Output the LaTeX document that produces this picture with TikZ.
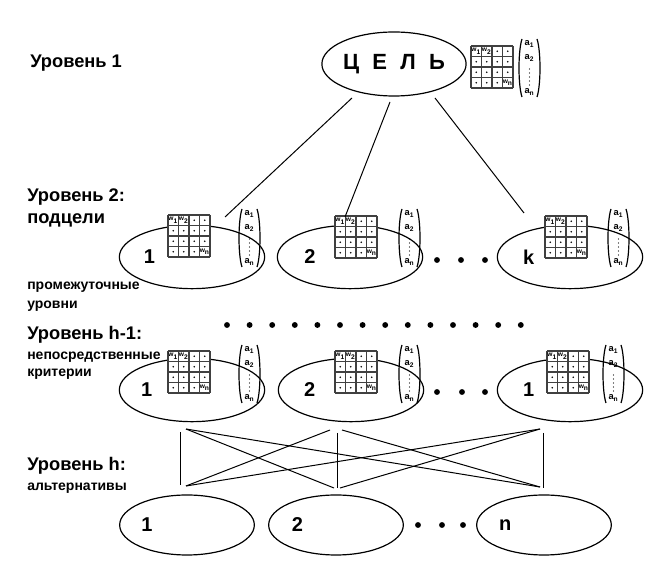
\documentclass[tikz,border=0pt]{standalone}
\usepackage{fontspec}
\setmainfont{Liberation Sans}
\usetikzlibrary{shapes.geometric,positioning,calc}

\tikzset{
  goalnode/.style={ellipse, draw, line width=0.9pt, minimum width=107pt, minimum height=48pt, inner sep=0pt, font=\fontsize{16.5}{16.5}\selectfont\bfseries},
  critnode/.style={ellipse, draw, line width=0.9pt, minimum width=109pt, minimum height=47.5pt, inner sep=0pt},
  altnode/.style={ellipse, draw, line width=0.9pt, minimum width=101pt, minimum height=45pt, inner sep=0pt},
  numlabel/.style={inner sep=0pt, font=\fontsize{15}{15}\selectfont\bfseries},
  levtext/.style={anchor=west, inner sep=0pt, font=\fontsize{13.7}{13.7}\selectfont\bfseries},
  subtext/.style={anchor=west, inner sep=0pt, font=\fontsize{10.5}{10.5}\selectfont\bfseries},
  link/.style={line width=0.75pt},
  gridline/.style={draw=black!75, line width=0.9pt},
  cell/.style={inner sep=0pt, font=\fontsize{5}{5}\selectfont\bfseries},
  entry/.style={inner sep=0pt, font=\fontsize{7}{7}\selectfont\bfseries},
  wmatrix/.pic={
    \fill[white] (0,0) rectangle (42,42);
    \foreach \k in {0,...,4} {
      \draw[gridline] (0,\k*10.5) -- (42,\k*10.5);
      \draw[gridline] (\k*10.5,0) -- (\k*10.5,42);
    }
    \node[cell] at (5.25,5.25) {w\textsubscript{1}};
    \node[cell] at (15.75,5.25) {w\textsubscript{2}};
    \node[cell] at (36.75,36.75) {w\textsubscript{n}};
    \foreach \c/\r in {2/0,3/0,0/1,1/1,2/1,3/1,0/2,1/2,2/2,3/2,0/3,1/3,2/3}
      \fill (\c*10.5+5.25,\r*10.5+5.25) circle (0.6pt);
  },
  avector/.pic={
    \draw[line width=0.9pt] (4,0) .. controls (0,12) and (0,46) .. (4,58);
    \draw[line width=0.9pt] (19,0) .. controls (23,12) and (23,46) .. (19,58);
    \node[entry] at (11.5,5) {a\textsubscript{1}};
    \node[entry] at (11.5,19) {a\textsubscript{2}};
    \foreach \k in {30,34,...,46} \fill (11.5,\k) circle (0.45pt);
    \node[entry] at (11.5,53) {a\textsubscript{n}};
  }
}

\begin{document}
\begin{tikzpicture}[x=0.75pt, y=-0.75pt]
  \useasboundingbox (0,0) rectangle (654,573);

  % level names
  \node (lev1) [levtext] at (30,63) {Уровень 1};
  \node (lev2) [levtext] at (27,197) {Уровень 2:};
  \node (lev2sub) [levtext] at (27,220) {подцели};
  \node (mid) [subtext] at (27,287) {промежуточные};
  \node (midsub) [subtext] at (27,306) {уровни};
  \node (levh1) [levtext] at (27,335) {Уровень h-1:};
  \node (levh1sub) [subtext] at (27,357) {непосредственные};
  \node (levh1sub2) [subtext] at (27,374) {критерии};
  \node (levh) [levtext] at (27,466) {Уровень h:};
  \node (levhsub) [subtext] at (27,488) {альтернативы};

  % goal
  \node (goal) [goalnode] at (394,64) {{\spaceskip=10pt Ц Е Л Ь}};
  \pic at (471,46) {wmatrix};
  \pic at (518,39) {avector};

  % level 2
  \node (sub1) [critnode, label={[numlabel, xshift=-32pt]center:1}] at (192,257) {};
  \node (sub2) [critnode, label={[numlabel, xshift=-30pt]center:2}] at (350,257) {};
  \node (subk) [critnode, label={[numlabel, xshift=-31pt]center:k}] at (570,257) {};
  \pic at (168,215) {wmatrix};
  \pic at (335,216) {wmatrix};
  \pic at (545,216) {wmatrix};
  \pic at (238,209) {avector};
  \pic at (398,209) {avector};
  \pic at (607,209) {avector};
  \foreach \x in {437,461,485} \fill (\x,260) circle (2.2pt);

  % intermediate levels
  \foreach \k in {0,...,13} \fill (227+\k*22.6,325) circle (2.2pt);

  % level h-1
  \node (crit1) [critnode, label={[numlabel, xshift=-34pt]center:1}] at (192,390) {};
  \node (crit2) [critnode, label={[numlabel, xshift=-31pt]center:2}] at (351,390) {};
  \node (crit3) [critnode, label={[numlabel, xshift=-31pt]center:1}] at (570,390) {};
  \pic at (168,351) {wmatrix};
  \pic at (335,351) {wmatrix};
  \pic at (547,351) {wmatrix};
  \pic at (238,345) {avector};
  \pic at (398,345) {avector};
  \pic at (602,345) {avector};
  \foreach \x in {437,462,485} \fill (\x,392) circle (2.2pt);

  % level h
  \node (alt1) [altnode, label={[numlabel, xshift=-30pt]center:1}] at (187,525) {};
  \node (alt2) [altnode, label={[numlabel, xshift=-29pt]center:2}] at (336,525) {};
  \node (altn) [altnode, label={[numlabel, xshift=-29pt]center:n}] at (544,525) {};
  \foreach \x in {418,442,463} \fill (\x,525) circle (2.2pt);

  % goal to subgoals
  \coordinate (g1) at (352,98);
  \coordinate (g2) at (390,102);
  \coordinate (g3) at (435,98);
  \coordinate (s1) at (225,217);
  \coordinate (s2) at (345,217);
  \coordinate (s3) at (524,213);
  \draw[link] (g1) -- (s1);
  \draw[link] (g2) -- (s2);
  \draw[link] (g3) -- (s3);

  % criteria to alternatives
  \coordinate (u1) at (180,432);
  \coordinate (u1r) at (186,429);
  \coordinate (u2l) at (330,430);
  \coordinate (u2) at (337,433);
  \coordinate (u2r) at (342,430);
  \coordinate (u3) at (543,433);
  \coordinate (u3l) at (540,429);
  \coordinate (l1) at (180,485);
  \coordinate (l1r) at (186,486);
  \coordinate (l2l) at (334,488);
  \coordinate (l2) at (337,488);
  \coordinate (l2r) at (340,488);
  \coordinate (l3) at (543,488);
  \coordinate (l3l) at (540,487);
  \draw[link] (u1) -- (l1);
  \draw[link] (u2) -- (l2);
  \draw[link] (u3) -- (l3);
  \draw[link] (u1r) -- (l2l);
  \draw[link] (u1r) -- (l3l);
  \draw[link] (u2l) -- (l1r);
  \draw[link] (u2r) -- (l3l);
  \draw[link] (u3l) -- (l1r);
  \draw[link] (u3l) -- (l2r);
\end{tikzpicture}
\end{document}
